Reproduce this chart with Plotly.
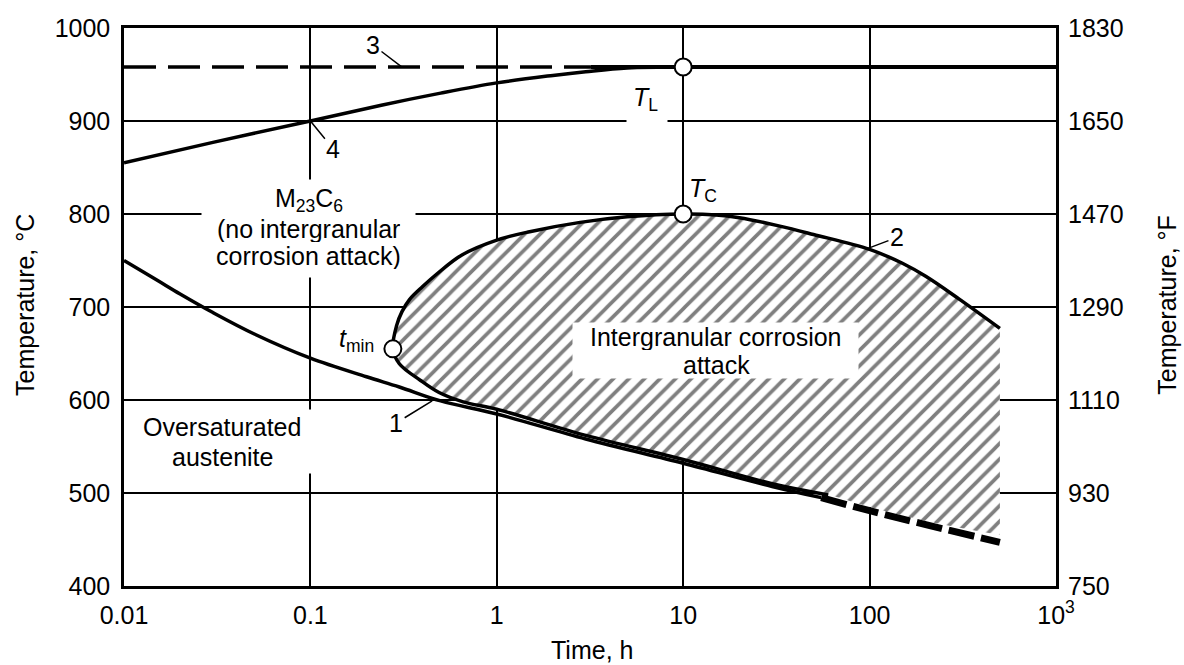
import numpy as np
import plotly.graph_objects as go

# ---------------- data ----------------
time_ticks = [0.01, 0.1, 1, 10, 100, 1000]
time_ticktext = ["0.01", "0.1", "1", "10", "100", "10<sup>3</sup>"]
tempC_ticks = [400, 500, 600, 700, 800, 900, 1000]
tempF_ticktext = ["750", "930", "1110", "1290", "1470", "1650", "1830"]

# Curve 1 (solid part, then dashed extrapolation)
curve1_t = [0.01, 0.015, 0.02, 0.03, 0.05, 0.1, 0.2, 0.3, 0.5, 1, 3, 10, 30, 55]
curve1_T = [750, 729, 714, 694, 671, 645, 625, 614, 599, 585, 558, 532, 507, 495]
curve1_dash_t = [55, 100, 200, 500]
curve1_dash_T = [495, 481, 466, 447]

# Curve 2 (C-curve of intergranular corrosion), upper branch from t_min
curve2_up_t = [0.277, 0.29, 0.31, 0.34, 0.4, 0.48, 0.65, 1, 1.5, 2.8, 5, 10, 15, 20, 33, 50, 100, 150, 200, 300, 500]
curve2_up_T = [655, 680, 695, 708, 722, 736, 756, 772, 781, 791, 797, 800, 799, 796, 787, 778, 762, 747, 733, 709, 677]
# lower branch from t_min
curve2_lo_t = [0.277, 0.30, 0.39, 0.49, 0.66, 1, 3, 10, 30, 60, 100, 200, 500]
curve2_lo_T = [655, 639, 621, 608, 598, 590, 562, 536, 510, 498, 485, 470, 455]
curve2_lo_drawn_max_t = 60

# Curve 3 (T_L line) dashed then solid
TL_value = 958
curve3_dash_t = [0.01, 3.2]
curve3_solid_t = [3.2, 1000]

# Curve 4
curve4_t = [0.01, 0.03, 0.1, 0.24, 0.5, 1, 2, 3, 5, 10]
curve4_T = [855, 877, 900, 917, 930, 941, 949, 953, 957, 958]

# Marked points: T_L, T_C, t_min
points_t = [10, 10, 0.277]
points_T = [958, 800, 655]

# Curve number labels: anchor on curve (t, T) and text
curve_label_text = ["1", "2", "3", "4"]
curve_label_t = [0.45, 98, 0.31, 0.1]
curve_label_T = [599, 763, 958, 900]

FONT = "Liberation Sans, Arial, Helvetica, sans-serif"
FS = 25
SMOOTH = 1.0

fig = go.Figure()

# hatched region between lower and upper branch of curve 2
fig.add_trace(go.Scatter(
    x=curve2_lo_t, y=curve2_lo_T, mode="lines",
    line=dict(width=0, color="rgba(0,0,0,0)", shape="spline", smoothing=SMOOTH),
    hoverinfo="skip", showlegend=False))
fig.add_trace(go.Scatter(
    x=curve2_up_t, y=curve2_up_T, mode="lines", fill="tonexty",
    line=dict(width=0, color="rgba(0,0,0,0)", shape="spline", smoothing=SMOOTH),
    fillcolor="white",
    fillpattern=dict(shape="/", size=11, solidity=0.33, fgcolor="black", bgcolor="white"),
    hoverinfo="skip", showlegend=False))

# curve 1
fig.add_trace(go.Scatter(x=curve1_t, y=curve1_T, mode="lines",
                         line=dict(color="black", width=3.5, shape="spline", smoothing=SMOOTH),
                         showlegend=False))
fig.add_trace(go.Scatter(x=curve1_dash_t, y=curve1_dash_T, mode="lines",
                         line=dict(color="black", width=7, dash="26px,7px", shape="spline"),
                         showlegend=False))

# curve 2 outline (lower branch reversed up to t_min then upper branch)
lo_idx = [i for i, t in enumerate(curve2_lo_t) if t <= curve2_lo_drawn_max_t]
c2_t = [curve2_lo_t[i] for i in lo_idx][::-1] + curve2_up_t[1:]
c2_T = [curve2_lo_T[i] for i in lo_idx][::-1] + curve2_up_T[1:]
fig.add_trace(go.Scatter(x=c2_t, y=c2_T, mode="lines",
                         line=dict(color="black", width=3.5, shape="spline", smoothing=SMOOTH),
                         showlegend=False))

# curve 3
fig.add_trace(go.Scatter(x=curve3_dash_t, y=[TL_value] * len(curve3_dash_t), mode="lines",
                         line=dict(color="black", width=3.5, dash="32px,12px"),
                         showlegend=False))
fig.add_trace(go.Scatter(x=curve3_solid_t, y=[TL_value] * len(curve3_solid_t), mode="lines",
                         line=dict(color="black", width=4),
                         showlegend=False))

# curve 4
fig.add_trace(go.Scatter(x=curve4_t, y=curve4_T, mode="lines",
                         line=dict(color="black", width=3.5, shape="spline", smoothing=SMOOTH),
                         showlegend=False))

# marked points (on right-hand °F axis overlay, same scale)
fig.add_trace(go.Scatter(x=points_t, y=points_T, mode="markers", yaxis="y2",
                         marker=dict(symbol="circle", size=17, color="white",
                                     line=dict(color="black", width=2)),
                         showlegend=False))


def lx(t):
    return float(np.log10(t))


annotations = []


def white_box(t, T, w, h):
    annotations.append(dict(x=lx(t), y=T, xref="x", yref="y", text=" ", showarrow=False,
                            xanchor="center", yanchor="middle", width=w, height=h,
                            bgcolor="white", borderpad=0,
                            font=dict(size=FS, family=FONT, color="black")))


def txt_ann(text, t, T, h=None, size=FS):
    d = dict(x=lx(t), y=T, xref="x", yref="y", text=text, showarrow=False,
             xanchor="center", yanchor="middle",
             font=dict(size=size, family=FONT, color="black"))
    if h is not None:
        d["height"] = h
    annotations.append(d)


# white areas behind region labels (interrupt grid / hatching)
white_box(0.0977, 784.4, 213, 97)
white_box(0.0336, 555.4, 184, 63)
white_box(14.9, 653.2, 285, 55)
white_box(6.39, 918.3, 40, 36)

# curve number labels with leaders
offsets = [(-36, 22), (29, -11), (-29, -22), (23, 28)]
for txt, t, T, (ax, ay) in zip(curve_label_text, curve_label_t, curve_label_T, offsets):
    annotations.append(dict(x=lx(t), y=T, xref="x", yref="y", text=txt,
                            showarrow=True, arrowhead=0, arrowwidth=1.5, arrowcolor="black",
                            ax=ax, ay=ay, standoff=0,
                            font=dict(size=FS, family=FONT, color="black")))

# region labels
txt_ann("M<sub>23</sub>C<sub>6</sub>", 0.098, 815, h=26)
txt_ann("(no intergranular", 0.098, 784, h=26)
txt_ann("corrosion attack)", 0.098, 755, h=26)
txt_ann("Oversaturated", 0.0336, 571, h=28)
txt_ann("austenite", 0.0336, 539, h=28)
txt_ann("Intergranular corrosion", 15.0, 668, h=26)
txt_ann("attack", 15.0, 638, h=26)
txt_ann("<i>T</i><sub>L</sub>", 6.3, 924)
txt_ann("<i>T</i><sub>C</sub>", 12.7, 826)
txt_ann("<i>t</i><sub>min</sub>", 0.177, 665)

# axis titles
annotations.append(dict(x=-0.106, y=0.504, xref="paper", yref="paper", text="Temperature, °C",
                        textangle=-90, showarrow=False, xanchor="center", yanchor="middle",
                        font=dict(size=FS, family=FONT, color="black")))
annotations.append(dict(x=1.119, y=0.504, xref="paper", yref="paper", text="Temperature, °F",
                        textangle=-90, showarrow=False, xanchor="center", yanchor="middle",
                        font=dict(size=FS, family=FONT, color="black")))
annotations.append(dict(x=0.502, y=-0.115, xref="paper", yref="paper", text="Time, h",
                        showarrow=False, xanchor="center", yanchor="middle",
                        font=dict(size=FS, family=FONT, color="black")))

axis_common = dict(showline=True, linecolor="black", linewidth=2.5, mirror=True,
                   showgrid=True, gridcolor="black", gridwidth=1.5, zeroline=False,
                   ticks="", tickfont=dict(size=FS, family=FONT, color="black"))

fig.update_layout(
    width=1184, height=665,
    margin=dict(l=124, r=128, t=28, b=79),
    paper_bgcolor="white", plot_bgcolor="white",
    showlegend=False,
    font=dict(family=FONT, size=FS, color="black"),
    xaxis=dict(type="log", range=[np.log10(time_ticks[0]), np.log10(time_ticks[-1])],
               tickvals=time_ticks, ticktext=time_ticktext, ticklabelstandoff=5,
               **axis_common),
    yaxis=dict(range=[tempC_ticks[0], tempC_ticks[-1]], tickvals=tempC_ticks,
               ticktext=[str(v) for v in tempC_ticks], ticklabelstandoff=6,
               **axis_common),
    yaxis2=dict(overlaying="y", side="right", range=[tempC_ticks[0], tempC_ticks[-1]],
                tickvals=tempC_ticks, ticktext=tempF_ticktext, showgrid=False,
                showline=False, zeroline=False, ticks="", ticklabelstandoff=11,
                tickfont=dict(size=FS, family=FONT, color="black")),
    annotations=annotations,
)

fig.write_html("out.html", config={"displayModeBar": False},
               post_script="document.body.style.margin='0';document.body.style.overflow='hidden';")
